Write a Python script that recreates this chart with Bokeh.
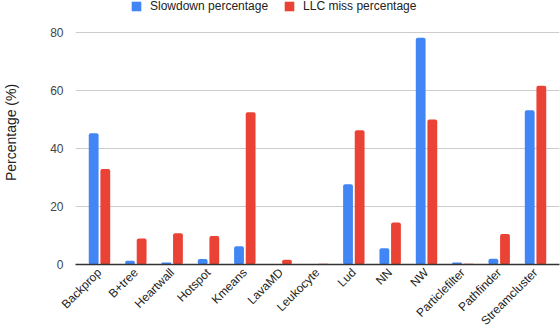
import math
from bokeh.plotting import figure
from bokeh.models import ColumnDataSource, Range1d, FixedTicker, Legend, LegendItem
from bokeh.transform import dodge
from bokeh.embed import file_html
from bokeh.resources import INLINE

categories = ["Backprop", "B+tree", "Heartwall", "Hotspot", "Kmeans", "LavaMD", "Leukocyte",
              "Lud", "NN", "NW", "Particlefilter", "Pathfinder", "Streamcluster"]
slowdown = [45.3, 1.3, 0.7, 1.9, 6.3, 0.0, 0.0, 27.7, 5.6, 78.2, 0.7, 2.0, 53.2]
llc_miss = [32.9, 9.0, 10.8, 9.8, 52.5, 1.6, 0.3, 46.3, 14.5, 50.0, 0.3, 10.5, 61.6]
y_ticks = [0, 20, 40, 60, 80]

FONT = "Liberation Sans"
BLUE = "#4285F4"
RED = "#EA4335"

W, H = 560, 335
BOTTOM = 71
FRAME_H = H - BOTTOM
# top gridline (80) sits 32px below the top of the picture; free space above holds the legend
y_top = 80 * FRAME_H / (FRAME_H - 32)

src = ColumnDataSource(dict(x=list(range(len(categories))), slow=slowdown, llc=llc_miss))

p = figure(width=W, height=H, output_backend="svg", toolbar_location=None,
           x_range=Range1d(-0.66, len(categories) - 1 + 0.66), y_range=Range1d(0, y_top),
           min_border_left=66, min_border_top=0, min_border_bottom=BOTTOM, min_border_right=1)
p.outline_line_color = None

bw = 0.27
r1 = p.vbar(x=dodge("x", -0.16), top="slow", width=bw, source=src, fill_color=BLUE,
            line_color=None, border_radius=2)
r2 = p.vbar(x=dodge("x", 0.16), top="llc", width=bw, source=src, fill_color=RED,
            line_color=None, border_radius=2)

# x axis
p.xaxis.ticker = FixedTicker(ticks=list(range(len(categories))))
p.xaxis.major_label_overrides = {i: c for i, c in enumerate(categories)}
p.xaxis.major_label_orientation = math.pi / 4
p.xaxis.major_label_text_font = FONT
p.xaxis.major_label_text_font_size = "12px"
p.xaxis.major_label_text_color = "#222222"
p.xaxis.major_tick_line_color = None
p.xaxis.minor_tick_line_color = None
p.xaxis.axis_line_color = "#333333"
p.xaxis.axis_line_width = 1.5
p.xaxis.major_label_standoff = 0
p.xgrid.grid_line_color = None

# y axis
p.yaxis.ticker = FixedTicker(ticks=y_ticks)
p.yaxis.axis_label = "Percentage (%)"
p.yaxis.axis_label_text_font = FONT
p.yaxis.axis_label_text_font_size = "14px"
p.yaxis.axis_label_text_font_style = "normal"
p.yaxis.axis_label_text_color = "#222222"
p.yaxis.axis_label_standoff = 28
p.yaxis.major_label_text_font = FONT
p.yaxis.major_label_text_font_size = "12px"
p.yaxis.major_label_text_color = "#444444"
p.yaxis.major_tick_line_color = None
p.yaxis.minor_tick_line_color = None
p.yaxis.axis_line_color = None
p.yaxis.major_label_standoff = 6
p.ygrid.grid_line_color = "#cccccc"
p.ygrid.grid_line_width = 1

legend = Legend(items=[LegendItem(label="Slowdown percentage", renderers=[r1]),
                       LegendItem(label="LLC miss percentage", renderers=[r2])],
                orientation="horizontal", location=(55, FRAME_H - 13),
                label_text_font=FONT, label_text_font_size="12px", label_text_color="#222222",
                glyph_width=12, glyph_height=12, label_height=12, label_standoff=8, spacing=15,
                padding=0, margin=0, border_line_color=None, background_fill_alpha=0)
p.add_layout(legend, "center")

open("out.html", "w").write(file_html(p, INLINE))
